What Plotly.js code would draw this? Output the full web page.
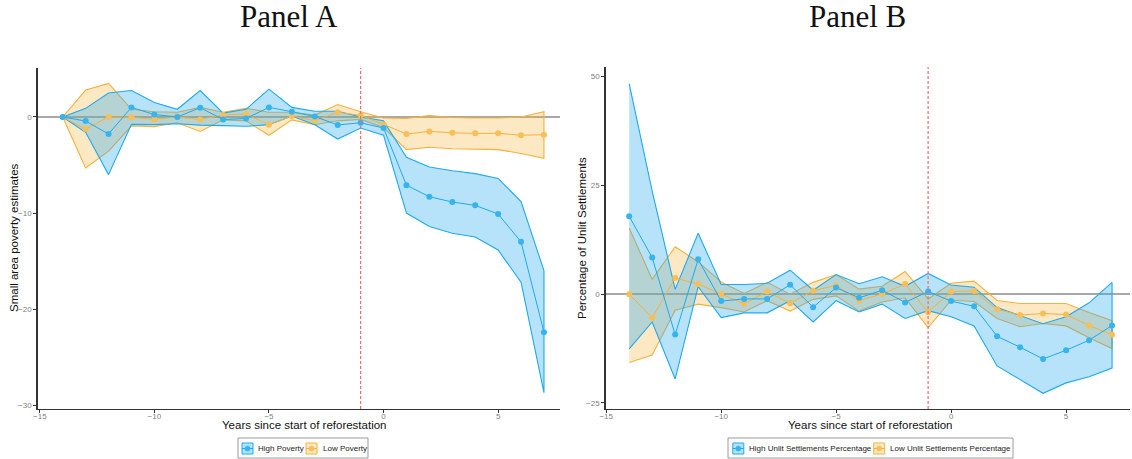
<!DOCTYPE html>
<html>
<head>
<meta charset="utf-8">
<script src="https://cdn.plot.ly/plotly-3.0.1.min.js"></script>
<style>
  html, body { margin: 0; padding: 0; background: #fff; }
  #chart { width: 1132px; height: 459px; }
</style>
</head>
<body>
<div id="chart"></div>
<script>
// Event-time axis: years relative to the start of reforestation
const years = [-14, -13, -12, -11, -10, -9, -8, -7, -6, -5, -4, -3, -2, -1, 0, 1, 2, 3, 4, 5, 6, 7];

// Panel A: small area poverty estimates
const highPovEst   = [0, -0.42, -1.77, 1.0, 0.25, 0.0, 0.97, -0.27, -0.15, 1.0, 0.55, 0.05, -0.83, -0.6, -1.15, -7.1, -8.3, -8.85, -9.2, -10.1, -13.0, -22.4];
const highPovUpper = [0, 0.9, 2.5, 2.75, 1.5, 0.8, 2.75, 0.4, 0.8, 2.9, 1.0, 0.6, 0.6, 0.0, -0.4, -4.2, -5.2, -5.6, -5.9, -6.4, -8.8, -16.0];
const highPovLower = [0, -1.6, -6.0, -0.77, -0.8, -0.7, -0.85, -0.9, -0.97, -0.8, 0.1, -0.8, -2.3, -1.15, -1.9, -10.0, -11.4, -12.1, -12.5, -13.85, -17.2, -28.7];
const lowPovEst    = [0, -1.25, 0.0, -0.03, -0.25, 0.0, -0.25, 0.2, 0.3, -0.8, 0.1, -0.4, 0.5, 0.17, -0.77, -1.77, -1.5, -1.65, -1.7, -1.7, -1.9, -1.84];
const lowPovUpper  = [0, 2.8, 3.5, 0.8, 0.55, 0.5, 1.0, 0.5, 0.9, 0.5, 0.5, 0.2, 1.3, 0.55, -0.1, -0.14, 0.15, -0.05, -0.1, -0.1, 0.0, 0.55];
const lowPovLower  = [0, -5.3, -3.55, -0.94, -1.0, -0.6, -1.5, -0.3, -0.4, -1.9, -0.3, -0.8, -0.4, -0.25, -1.1, -3.4, -3.15, -3.3, -3.35, -3.4, -3.8, -4.3];

// Panel B: percentage of unlit settlements
const highUnlitEst   = [17.9, 8.4, -9.3, 8.0, -1.6, -1.1, -1.1, 2.15, -3.0, 1.5, -0.85, 0.9, -1.9, 0.6, -1.6, -2.8, -9.7, -12.2, -14.9, -12.9, -10.6, -7.2];
const highUnlitUpper = [48.4, 23.7, 1.1, 14.0, 2.2, 2.2, 2.5, 5.5, 0.9, 4.5, 2.4, 4.0, 1.8, 4.75, 2.1, 1.6, -3.1, -4.9, -6.8, -5.2, -2.0, 2.7];
const highUnlitLower = [-12.6, -6.4, -19.5, 1.7, -5.4, -4.3, -4.3, -1.5, -6.4, -1.5, -4.1, -2.3, -5.6, -3.8, -5.2, -7.3, -16.5, -19.6, -22.8, -20.4, -19.0, -17.0];
const lowUnlitEst    = [0.0, -5.4, 3.7, 2.3, 0.0, -2.2, 0.6, -2.1, 0.77, 2.0, -1.5, 0.07, 2.3, -4.1, 0.6, 0.7, -3.5, -4.8, -4.45, -4.7, -7.2, -9.35];
const lowUnlitUpper  = [15.2, 3.4, 10.9, 7.4, 2.8, 0.15, 2.7, 0.0, 2.7, 4.5, 1.15, 1.8, 5.2, -1.1, 2.5, 3.0, -1.45, -2.15, -2.15, -2.15, -4.2, -6.1];
const lowUnlitLower  = [-15.7, -14.0, -3.7, -2.3, -3.1, -4.1, -1.5, -3.9, -1.2, -0.4, -3.9, -1.8, -0.85, -7.7, -1.4, -1.7, -5.6, -7.5, -6.75, -7.3, -10.0, -12.5];

// Legend labels
const labelsA = ['High Poverty', 'Low Poverty'];
const labelsB = ['High Unlit Settlements Percentage', 'Low Unlit Settlements Percentage'];

const W = 1132, H = 459;

const BLUE = '#1ea9ee';
const BLUE_PT = '#35b4f0';
const BLUE_FILL = 'rgba(30,169,238,0.32)';
const ORANGE = '#f7b03c';
const ORANGE_PT = '#f9be55';
const ORANGE_FILL = 'rgba(250,178,60,0.30)';

// Confidence band drawn as a closed polygon (upper edge out, lower edge back)
function band(upper, lower, line, fill, xa, ya) {
  return {
    x: years.concat(years.slice().reverse()),
    y: upper.concat(lower.slice().reverse()),
    xaxis: xa, yaxis: ya,
    mode: 'lines', fill: 'toself', fillcolor: fill,
    line: { color: line, width: 1.1 },
    hoverinfo: 'skip'
  };
}

// Point estimates joined by a thin line
function est(vals, line, pt, xa, ya) {
  return {
    x: years, y: vals, xaxis: xa, yaxis: ya,
    mode: 'lines+markers',
    line: { color: line, width: 1 },
    marker: { color: pt, size: 6 }
  };
}

const data = [
  band(lowPovUpper, lowPovLower, ORANGE, ORANGE_FILL, 'x', 'y'),
  band(highPovUpper, highPovLower, BLUE, BLUE_FILL, 'x', 'y'),
  est(lowPovEst, ORANGE, ORANGE_PT, 'x', 'y'),
  est(highPovEst, BLUE, BLUE_PT, 'x', 'y'),
  band(lowUnlitUpper, lowUnlitLower, ORANGE, ORANGE_FILL, 'x2', 'y2'),
  band(highUnlitUpper, highUnlitLower, BLUE, BLUE_FILL, 'x2', 'y2'),
  est(lowUnlitEst, ORANGE, ORANGE_PT, 'x2', 'y2'),
  est(highUnlitEst, BLUE, BLUE_PT, 'x2', 'y2')
];

const SANS = 'Liberation Sans, Arial, sans-serif';
const tickFont = { family: SANS, size: 8, color: '#808080' };
const axisTitleFont = { family: SANS, size: 11.5, color: '#111' };
const panelFont = { family: 'Liberation Serif, Times New Roman, serif', size: 31, color: '#111' };
const legendFont = { family: SANS, size: 8, color: '#222' };

const commonX = {
  showline: true, linecolor: '#333', linewidth: 1.2,
  ticks: 'outside', ticklen: 3, tickcolor: '#333', tickwidth: 1,
  tickfont: tickFont, showgrid: false, zeroline: false,
  ticklabelstandoff: -4,
  tickvals: [-15, -10, -5, 0, 5]
};
const commonY = {
  showline: true, linecolor: '#333', linewidth: 1.2,
  ticks: 'outside', ticklen: 3, tickcolor: '#333', tickwidth: 1,
  tickfont: tickFont, showgrid: false,
  zeroline: true, zerolinecolor: '#a8a8a8', zerolinewidth: 1.4
};

// Pixel -> paper coordinate helpers for the key boxes under each panel
const px = v => v / W;
const py = v => 1 - v / H;

const shapes = [
  { type: 'line', xref: 'x', yref: 'y domain', x0: -1, x1: -1, y0: 0, y1: 1,
    line: { color: '#f26b6b', width: 1.2, dash: '3px,2px' } },
  { type: 'line', xref: 'x2', yref: 'y2 domain', x0: -1, x1: -1, y0: 0, y1: 1,
    line: { color: '#f26b6b', width: 1.2, dash: '3px,2px' } }
];
const annotations = [];

// Key: bordered box with a filled square, a line stub and a dot per series
function addKey(left, right, items) {
  const top = 438, bottom = 458, mid = 448.5;
  shapes.push({ type: 'rect', xref: 'paper', yref: 'paper',
    x0: px(left), x1: px(right), y0: py(bottom), y1: py(top),
    line: { color: '#9a9a9a', width: 1 }, fillcolor: '#fff' });
  items.forEach(it => {
    const c = it.cx;
    shapes.push({ type: 'rect', xref: 'paper', yref: 'paper',
      x0: px(c - 5.5), x1: px(c + 5.5), y0: py(mid + 5.5), y1: py(mid - 5.5),
      line: { color: it.line, width: 1 }, fillcolor: it.fill });
    shapes.push({ type: 'line', xref: 'paper', yref: 'paper',
      x0: px(c - 5.5), x1: px(c + 5.5), y0: py(mid), y1: py(mid),
      line: { color: it.line, width: 1 } });
    shapes.push({ type: 'circle', xref: 'paper', yref: 'paper',
      x0: px(c - 2.6), x1: px(c + 2.6), y0: py(mid + 2.6), y1: py(mid - 2.6),
      line: { color: it.pt, width: 0.5 }, fillcolor: it.pt });
    annotations.push({ text: it.label, xref: 'paper', yref: 'paper',
      x: px(it.tx), y: py(mid), xanchor: 'left', yanchor: 'middle',
      showarrow: false, font: legendFont, xshift: -1 });
  });
}

addKey(238, 368, [
  { cx: 247.5, tx: 257, label: labelsA[0], line: BLUE, fill: BLUE_FILL, pt: BLUE_PT },
  { cx: 311.5, tx: 321.5, label: labelsA[1], line: ORANGE, fill: ORANGE_FILL, pt: ORANGE_PT }
]);
addKey(728, 1013, [
  { cx: 738.3, tx: 747.5, label: labelsB[0], line: BLUE, fill: BLUE_FILL, pt: BLUE_PT },
  { cx: 879.2, tx: 888.8, label: labelsB[1], line: ORANGE, fill: ORANGE_FILL, pt: ORANGE_PT }
]);

annotations.push(
  { text: 'Panel A', xref: 'paper', yref: 'paper', x: px(289), y: py(17),
    xanchor: 'center', yanchor: 'middle', showarrow: false, font: panelFont },
  { text: 'Panel B', xref: 'paper', yref: 'paper', x: px(858), y: py(17),
    xanchor: 'center', yanchor: 'middle', showarrow: false, font: panelFont },
  { text: 'Years since start of reforestation', xref: 'paper', yref: 'paper', x: px(304), y: py(425),
    xanchor: 'center', yanchor: 'middle', showarrow: false, font: axisTitleFont },
  { text: 'Years since start of reforestation', xref: 'paper', yref: 'paper', x: px(870), y: py(425),
    xanchor: 'center', yanchor: 'middle', showarrow: false, font: axisTitleFont },
  { text: 'Small area poverty estimates', xref: 'paper', yref: 'paper', x: px(14), y: py(238),
    xanchor: 'center', yanchor: 'middle', textangle: -90, showarrow: false, font: axisTitleFont },
  { text: 'Percentage of Unlit Settlements', xref: 'paper', yref: 'paper', x: px(582), y: py(238),
    xanchor: 'center', yanchor: 'middle', textangle: -90, showarrow: false, font: axisTitleFont }
);

const layout = {
  width: W, height: H,
  margin: { l: 0, r: 0, t: 0, b: 0 },
  paper_bgcolor: '#fff', plot_bgcolor: '#fff',
  showlegend: false,
  xaxis: Object.assign({}, commonX, { domain: [px(37.5), px(560)], range: [-15.1, 7.7], anchor: 'y' }),
  yaxis: Object.assign({}, commonY, { domain: [py(409), py(68)], range: [-30.4, 5.1], tickvals: [-30, -20, -10, 0], anchor: 'x' }),
  xaxis2: Object.assign({}, commonX, { domain: [px(605.5), px(1130)], range: [-15.03, 7.78], anchor: 'y2' }),
  yaxis2: Object.assign({}, commonY, { domain: [py(409), py(67)], range: [-26.4, 52.2], tickvals: [-25, 0, 25, 50], anchor: 'x2' }),
  shapes: shapes,
  annotations: annotations
};

Plotly.newPlot('chart', data, layout, { displayModeBar: false, staticPlot: true });
</script>
</body>
</html>
